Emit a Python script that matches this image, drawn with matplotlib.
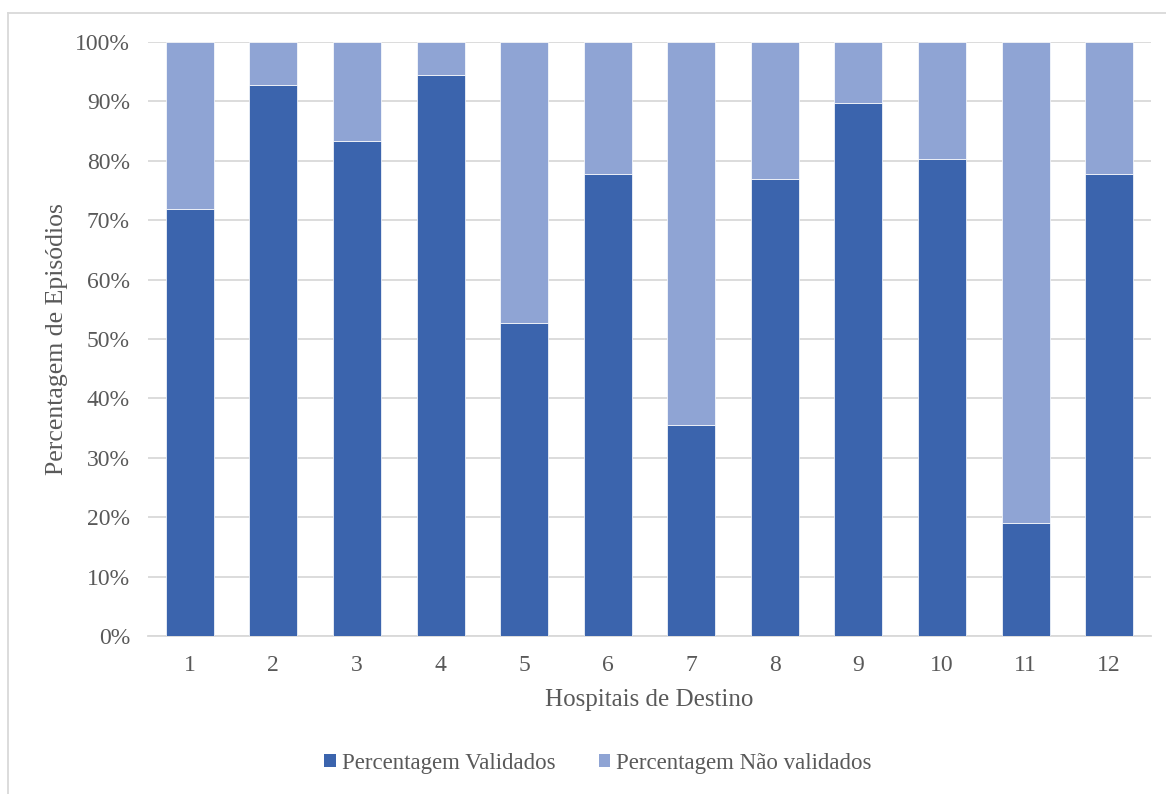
import matplotlib
matplotlib.use("Agg")
import matplotlib.pyplot as plt
from matplotlib.lines import Line2D
from matplotlib.patches import Patch
from matplotlib.ticker import FuncFormatter, MultipleLocator

hospitals = ["1", "2", "3", "4", "5", "6", "7", "8", "9", "10", "11", "12"]
validados = [71.9, 92.8, 83.3, 94.4, 52.7, 77.8, 35.5, 76.9, 89.7, 80.3, 19.0, 77.8]
nao_validados = [100 - v for v in validados]

dark = "#3B64AD"
light = "#8FA4D4"
text_col = "#595959"
grid_col = "#D9D9D9"

plt.rcParams["font.family"] = ["Liberation Serif", "DejaVu Serif"]

W, H = 1166, 794
fig = plt.figure(figsize=(W / 100, H / 100), dpi=100)

# plot area in pixel coordinates
left, right, top, bottom = 148, 1151, 42, 636
ax = fig.add_axes([left / W, 1 - bottom / H, (right - left) / W, (bottom - top) / H])

x = list(range(len(hospitals)))
width = 0.575
ax.bar(x, validados, width, color=dark, edgecolor="white", linewidth=0.5,
       label="Percentagem Validados", zorder=3)
ax.bar(x, nao_validados, width, bottom=validados, color=light, edgecolor="white",
       linewidth=0.5, label="Percentagem Não validados", zorder=3)

ax.set_xlim(-0.5, len(hospitals) - 0.5)
ax.set_ylim(0, 100)
ax.yaxis.set_major_locator(MultipleLocator(10))
ax.yaxis.set_major_formatter(FuncFormatter(lambda v, p: f"{int(round(v))}%"))
ax.set_xticks(x)
ax.set_xticklabels(hospitals)

ax.grid(axis="y", color=grid_col, linewidth=1.3, zorder=0)
ax.set_axisbelow(True)
for s in ["top", "right", "left"]:
    ax.spines[s].set_visible(False)
ax.spines["bottom"].set_color(grid_col)
ax.spines["bottom"].set_linewidth(1.3)
ax.tick_params(axis="both", length=0, labelsize=17, labelcolor=text_col)
ax.tick_params(axis="y", pad=13)
ax.tick_params(axis="x", pad=14)

ax.set_ylabel("Percentagem de Episódios", fontsize=18.5, color=text_col, labelpad=5)
ax.set_xlabel("Hospitais de Destino", fontsize=18, color=text_col, labelpad=9)

handles = [Patch(facecolor=dark, label="Percentagem Validados"),
           Patch(facecolor=light, label="Percentagem Não validados")]
leg = fig.legend(handles=handles, loc="center", bbox_to_anchor=(598 / W, 1 - 763 / H),
                 ncol=2, frameon=False, fontsize=16.5, handlelength=0.5, handleheight=0.5,
                 handletextpad=0.25, columnspacing=1.9)
for t in leg.get_texts():
    t.set_color(text_col)

# chart border (left and top edges)
fig.add_artist(Line2D([8 / W, 8 / W], [1 - 13 / H, 0], transform=fig.transFigure,
                      color=grid_col, linewidth=1.3))
fig.add_artist(Line2D([8 / W, 1], [1 - 13 / H, 1 - 13 / H], transform=fig.transFigure,
                      color=grid_col, linewidth=1.3))

fig.savefig("out.png", dpi=100, facecolor="white")
